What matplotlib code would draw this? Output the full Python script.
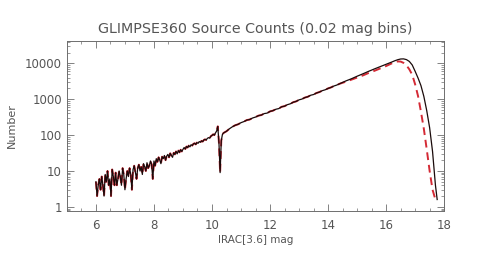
"""GLIMPSE360 source counts in 0.02 mag bins (IRAC 3.6 micron)."""

import matplotlib
matplotlib.use("Agg")
import matplotlib.pyplot as plt
from matplotlib.ticker import MultipleLocator, LogLocator, NullFormatter

# -- noisy bright end, 6.00 .. 10.40 mag (every 0.04 mag)
bright_mag = [
    6.00, 6.04, 6.08, 6.12, 6.16, 6.20, 6.24, 6.28, 6.32, 6.36, 6.40, 6.44, 6.48,
    6.52, 6.56, 6.60, 6.64, 6.68, 6.72, 6.76, 6.80, 6.84, 6.88, 6.92, 6.96,
    7.00, 7.04, 7.08, 7.12, 7.16, 7.20, 7.24, 7.28, 7.32, 7.36, 7.40, 7.44, 7.48,
    7.52, 7.56, 7.60, 7.64, 7.68, 7.72, 7.76, 7.80, 7.84, 7.88, 7.92, 7.96,
    8.00, 8.04, 8.08, 8.12, 8.16, 8.20, 8.24, 8.28, 8.32, 8.36, 8.40, 8.44, 8.48,
    8.52, 8.56, 8.60, 8.64, 8.68, 8.72, 8.76, 8.80, 8.84, 8.88, 8.92, 8.96,
    9.00, 9.04, 9.08, 9.12, 9.16, 9.20, 9.24, 9.28, 9.32, 9.36, 9.40, 9.44, 9.48,
    9.52, 9.56, 9.60, 9.64, 9.68, 9.72, 9.76, 9.80, 9.84, 9.88, 9.92, 9.96,
    10.00, 10.04, 10.08, 10.12, 10.16, 10.20, 10.24, 10.28, 10.32, 10.36, 10.40,
]
bright_counts = [
    5, 2, 4, 6, 3, 7, 4, 2, 8, 5, 10, 4, 6,
    2, 11, 7, 4, 9, 4, 6, 10, 7, 4, 12, 8,
    3, 6, 10, 7, 12, 8, 3, 11, 14, 9, 6, 12, 15,
    10, 13, 8, 16, 13, 10, 17, 12, 14, 19, 15, 6,
    19, 14, 22, 18, 24, 20, 16, 25, 22, 27, 20, 26, 29,
    24, 31, 27, 24, 32, 29, 35, 30, 37, 33, 39, 35,
    40, 45, 41, 48, 45, 51, 47, 54, 51, 57, 59, 55, 62,
    59, 66, 63, 69, 66, 73, 76, 73, 81, 85, 82, 93,
    98, 105, 100, 115, 130, 175, 60, 9, 70, 105, 115,
]

# -- smoother middle section, 10.5 .. 14.4 mag
mid_mag = [
    10.5, 10.6, 10.7, 10.8, 10.9, 11.0, 11.1, 11.2, 11.3, 11.4, 11.5, 11.6, 11.7,
    11.8, 11.9, 12.0, 12.1, 12.2, 12.3, 12.4, 12.5, 12.6, 12.7, 12.8, 12.9, 13.0,
    13.1, 13.2, 13.3, 13.4, 13.5, 13.6, 13.7, 13.8, 13.9, 14.0, 14.1, 14.2, 14.3, 14.4,
]
mid_counts = [
    128, 150, 170, 188, 200, 222, 238, 262, 272, 300, 318, 348, 362,
    398, 410, 457, 480, 525, 548, 615, 640, 705, 745, 825, 870, 960,
    1010, 1110, 1170, 1290, 1350, 1490, 1580, 1730, 1830, 2000, 2130, 2330, 2480, 2700,
]

# -- faint end, where the two curves separate
faint_mag = [
    14.6, 14.8, 15.0, 15.2, 15.4, 15.6, 15.8, 16.0, 16.2, 16.3, 16.4, 16.5, 16.6,
    16.7, 16.8, 16.9, 17.0, 17.1, 17.2, 17.3, 17.4, 17.5, 17.6, 17.7, 17.76,
]
black_faint = [
    3200, 3700, 4370, 5100, 6000, 7000, 8100, 9330, 10900, 11800, 12600, 13200, 13300,
    12700, 11300, 9000, 6000, 3900, 2400, 1200, 480, 160, 35, 4, 1.6,
]
red_faint_mag = [
    14.6, 14.8, 15.0, 15.2, 15.4, 15.6, 15.8, 16.0, 16.2, 16.3, 16.4, 16.5, 16.6,
    16.7, 16.8, 16.9, 17.0, 17.1, 17.2, 17.3, 17.4, 17.5, 17.6, 17.68,
]
red_faint = [
    3050, 3500, 4000, 4600, 5400, 6200, 7200, 8400, 10000, 10800, 11300, 11200, 10300,
    8800, 6800, 4800, 2600, 1230, 450, 150, 40, 10, 3, 1.8,
]

XTICKS = [6, 8, 10, 12, 14, 16, 18]
YTICKS = [1, 10, 100, 1000, 10000]

black_mag = bright_mag + mid_mag + faint_mag
black_counts = bright_counts + mid_counts + black_faint
red_mag = bright_mag + mid_mag + red_faint_mag
red_counts = bright_counts + mid_counts + red_faint

AXIS_GREY = "#6e6e6e"
TEXT_GREY = "#555555"

fig = plt.figure(figsize=(5.03, 2.66), dpi=100)
ax = fig.add_axes([0.133, 0.207, 0.750, 0.639])

ax.plot(red_mag, red_counts, color="#d42a35", linewidth=1.4, linestyle=(0, (4, 2.5)))
ax.plot(black_mag, black_counts, color="#1a0a0a", linewidth=0.9)

ax.set_yscale("log")
ax.set_xlim(5, 18)
ax.set_ylim(0.77, 4.2e4)

ax.set_xticks(XTICKS)
ax.set_xticklabels([str(t) for t in XTICKS])
ax.xaxis.set_minor_locator(MultipleLocator(0.5))
ax.set_yticks(YTICKS)
ax.set_yticklabels([str(t) for t in YTICKS])
ax.yaxis.set_minor_locator(LogLocator(base=10, subs=range(2, 10)))
ax.yaxis.set_minor_formatter(NullFormatter())

ax.tick_params(which="both", direction="in", top=True, right=True,
               colors=AXIS_GREY, labelcolor=TEXT_GREY, labelsize=8.5)
ax.tick_params(which="major", length=5, width=0.6)
ax.tick_params(which="minor", length=2.5, width=0.5)
ax.tick_params(axis="x", pad=6)
for spine in ax.spines.values():
    spine.set_color(AXIS_GREY)
    spine.set_linewidth(0.7)

ax.set_title("GLIMPSE360 Source Counts (0.02 mag bins)", fontsize=10.3,
             color=TEXT_GREY, pad=6)
ax.set_xlabel("IRAC[3.6] mag", fontsize=7.5, color=TEXT_GREY, labelpad=2)
ax.set_ylabel("Number", fontsize=8, color=TEXT_GREY, labelpad=6)

fig.savefig("out.png", dpi=100)
